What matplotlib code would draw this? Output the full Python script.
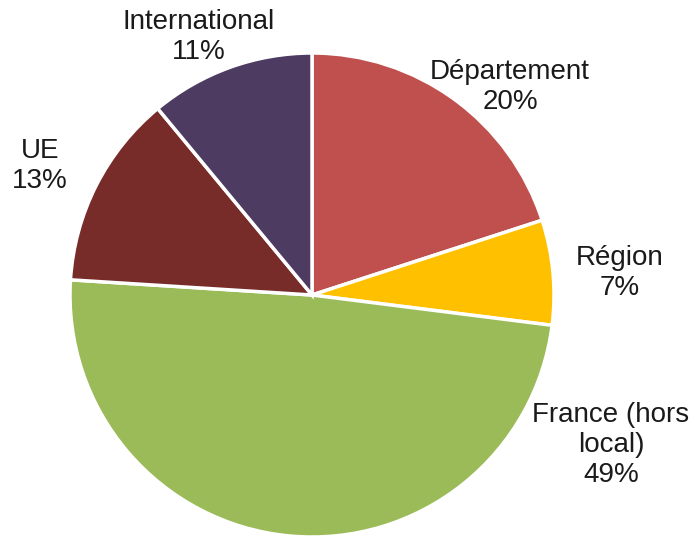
import matplotlib.pyplot as plt

# Données du graphique
labels = ['Département', 'Région', 'France (hors\nlocal)', 'UE', 'International']
values = [20, 7, 49, 13, 11]
colors = ['#C0504D', '#FFC000', '#9BBB59', '#772C2A', '#4D3B62']

# Position des étiquettes (pixels de l'image d'origine)
label_px = [(510, 87), (620, 273), (611, 445), (40, 166), (199, 37)]

W, H = 696, 536
cx, cy, r = 312, 295, 242

fig = plt.figure(figsize=(W / 100, H / 100), dpi=100)
ax = fig.add_axes([(cx - r) / W, (H - cy - r) / H, 2 * r / W, 2 * r / H])
ax.pie(values, colors=colors, startangle=90, counterclock=False,
       wedgeprops=dict(edgecolor='white', linewidth=2.5), radius=1)
ax.set_xlim(-1, 1)
ax.set_ylim(-1, 1)
ax.axis('off')

for lab, v, (px, py) in zip(labels, values, label_px):
    ax.text((px - cx) / r, (cy - py) / r, f'{lab}\n{v}%', ha='center', va='center',
            fontsize=20, family='Liberation Sans', color='#1a1a1a',
            linespacing=1.18, clip_on=False)

fig.savefig('out.png', dpi=100)
